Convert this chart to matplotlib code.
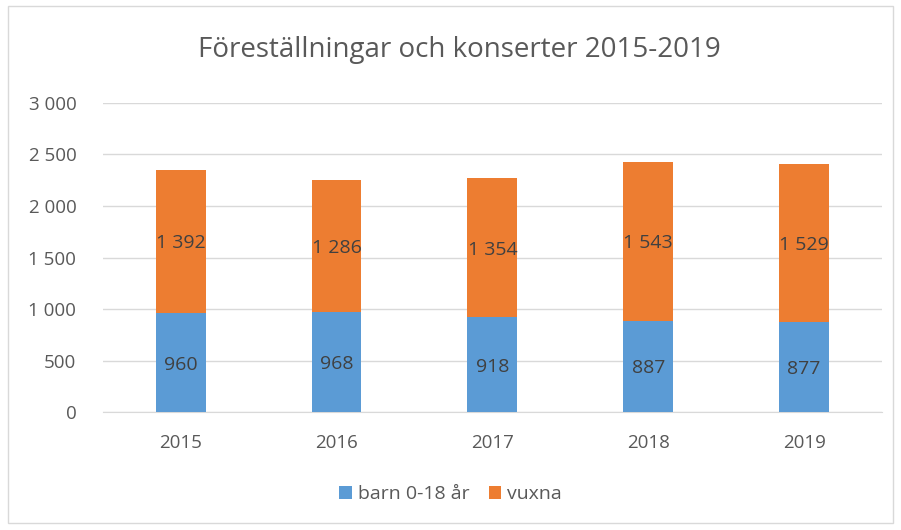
import matplotlib.pyplot as plt
from matplotlib.patches import Rectangle

years = ["2015", "2016", "2017", "2018", "2019"]
barn = [960, 968, 918, 887, 877]
vuxna = [1392, 1286, 1354, 1543, 1529]

blue = "#5B9BD5"
orange = "#ED7D31"
text_col = "#595959"

plt.rcParams['font.family'] = ['Open Sans', 'DejaVu Sans']

fig = plt.figure(figsize=(9.01, 5.30), dpi=100)
ax = fig.add_axes([0.114, 0.2226, 0.865, 0.5831])

x = range(len(years))
w = 0.32
ax.bar(x, barn, w, color=blue, label="barn 0-18 år", zorder=3)
ax.bar(x, vuxna, w, bottom=barn, color=orange, label="vuxna", zorder=3)


def fmt(v):
    return f"{v:,}".replace(",", " ")


for i in x:
    ax.text(i, barn[i] / 2, fmt(barn[i]), ha="center", va="center_baseline",
            fontsize=14, color="#404040", zorder=4)
    ax.text(i, barn[i] + vuxna[i] / 2, fmt(vuxna[i]), ha="center",
            va="center_baseline", fontsize=14, color="#404040", zorder=4)

ax.set_ylim(0, 3000)
ax.set_xlim(-0.5, 4.5)
ax.set_yticks(range(0, 3001, 500))
ax.set_yticklabels([fmt(v) for v in range(0, 3001, 500)])
ax.set_xticks(list(x))
ax.set_xticklabels(years)
ax.tick_params(length=0, labelsize=13.5, colors=text_col)
ax.tick_params(axis="x", pad=16)
ax.tick_params(axis="y", pad=19)
ax.grid(axis="y", color="#D9D9D9", linewidth=1, zorder=0)
for s in ["top", "right", "left"]:
    ax.spines[s].set_visible(False)
ax.spines["bottom"].set_color("#D9D9D9")

fig.text(0.51, 0.905, "Föreställningar och konserter 2015-2019", ha="center",
         va="center", fontsize=20, color=text_col)

fig.legend(loc="center", bbox_to_anchor=(0.5, 0.068), ncol=2, frameon=False,
           fontsize=14, labelcolor=text_col, handlelength=0.65, handleheight=0.65,
           columnspacing=1.0, handletextpad=0.3)

fig.patches.append(Rectangle((0.009, 0.013), 0.982, 0.975, transform=fig.transFigure,
                             fill=False, edgecolor="#D9D9D9", linewidth=1))

fig.savefig("out.png", dpi=100)
